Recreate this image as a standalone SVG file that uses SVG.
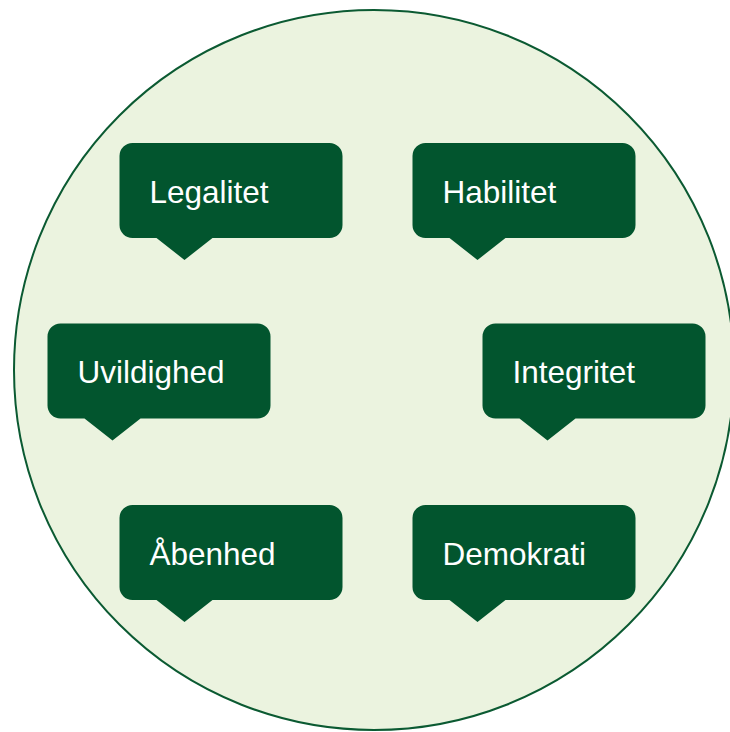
<svg xmlns="http://www.w3.org/2000/svg" width="730" height="732" viewBox="0 0 730 732">
<style>
.bubble{fill:#02552E;}
.lbl{fill:#FFFFFF;font-family:"Liberation Sans",Arial,sans-serif;font-size:31.5px;}
</style>
<defs>
<path id="b" d="M13,0 H210 A13,13 0 0 1 223,13 V82 A13,13 0 0 1 210,95 H93 L65,117 L37,95 H13 A13,13 0 0 1 0,82 V13 A13,13 0 0 1 13,0 Z"/>
</defs>
<rect width="730" height="732" fill="#FFFFFF"/>
<circle cx="374" cy="370" r="360" fill="#EBF3DF" stroke="#0B5A32" stroke-width="2"/>
<g id="connectors"></g>
<g id="legalitet" transform="translate(119.5,143)"><use href="#b" class="bubble"/><text class="lbl" x="30" y="59.5">Legalitet</text></g>
<g id="habilitet" transform="translate(412.5,143)"><use href="#b" class="bubble"/><text class="lbl" x="30" y="59.5">Habilitet</text></g>
<g id="uvildighed" transform="translate(47.5,323.5)"><use href="#b" class="bubble"/><text class="lbl" x="30" y="59.5">Uvildighed</text></g>
<g id="integritet" transform="translate(482.5,323.5)"><use href="#b" class="bubble"/><text class="lbl" x="30" y="59.5">Integritet</text></g>
<g id="abenhed" transform="translate(119.5,505)"><use href="#b" class="bubble"/><text class="lbl" x="30" y="59.5">Åbenhed</text></g>
<g id="demokrati" transform="translate(412.5,505)"><use href="#b" class="bubble"/><text class="lbl" x="30" y="59.5">Demokrati</text></g>
</svg>
